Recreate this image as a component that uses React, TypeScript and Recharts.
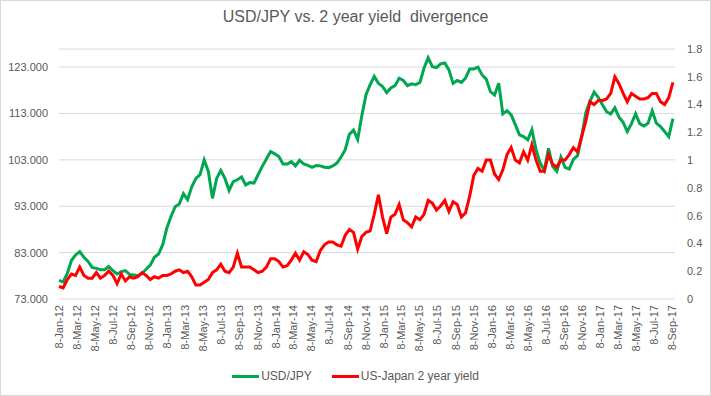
import React from "react";
import {
  LineChart,
  Line,
  XAxis,
  YAxis,
  CartesianGrid,
  Legend,
} from "recharts";

// fortnightly readings starting 8-Jan-12
const START = Date.UTC(2012, 0, 8);
const END = Date.UTC(2017, 8, 17);
const STEP_DAYS = 14;
const DAY = 86400000;

const usdJpy = [
  77.0, 76.7, 78.5, 81.3, 82.5, 83.2, 82.0, 81.1, 79.8, 79.6,
  79.3, 79.3, 80.0, 79.1, 78.4, 78.9, 79.1, 78.3, 78.2, 78.0,
  78.5, 79.4, 80.3, 82.0, 82.7, 84.7, 88.3, 90.8, 92.9, 93.5,
  95.7, 94.4, 97.2, 99.0, 99.8, 103.0, 100.5, 94.7, 99.0, 100.7,
  99.0, 96.4, 98.3, 98.7, 99.3, 97.6, 98.1, 98.0, 99.8, 101.6,
  103.2, 104.8, 104.3, 103.7, 102.1, 102.1, 102.6, 101.7, 102.9, 102.1,
  101.8, 101.4, 101.8, 101.7, 101.4, 101.3, 101.7, 102.3, 103.6, 105.2,
  108.5, 109.4, 107.4, 112.5, 117.0, 119.2, 121.0, 119.5, 118.8, 117.5,
  118.5, 119.0, 120.6, 120.1, 119.0, 119.4, 119.2, 119.7, 122.8, 125.0,
  123.1, 122.9, 123.7, 123.9, 122.4, 119.5, 120.1, 119.7, 120.6, 122.6,
  122.6, 123.0, 121.3, 120.4, 117.7, 117.0, 119.5, 112.9, 113.6, 112.7,
  110.6, 108.4, 108.0, 107.3, 109.5, 105.2, 102.3, 100.7, 105.5, 101.6,
  100.5, 103.6, 101.4, 101.0, 103.1, 103.9, 108.0, 113.2, 115.6, 117.6,
  116.5, 114.9, 113.4, 112.9, 114.2, 112.2, 111.1, 109.1, 110.8, 112.9,
  110.8, 110.3, 110.9, 113.6, 110.9, 110.2, 109.1, 108.0, 111.9,
];

const yieldGap = [
  0.09, 0.08, 0.14, 0.18, 0.17, 0.23, 0.17, 0.15, 0.15, 0.19,
  0.15, 0.17, 0.2, 0.17, 0.11, 0.18, 0.13, 0.16, 0.15, 0.16,
  0.19, 0.17, 0.14, 0.16, 0.15, 0.17, 0.17, 0.18, 0.2, 0.21,
  0.19, 0.2, 0.16, 0.1, 0.1, 0.12, 0.14, 0.19, 0.21, 0.25,
  0.2, 0.19, 0.23, 0.33, 0.23, 0.23, 0.23, 0.21, 0.19, 0.2,
  0.23, 0.29, 0.29, 0.27, 0.23, 0.24, 0.28, 0.33, 0.28, 0.34,
  0.32, 0.28, 0.27, 0.35, 0.39, 0.41, 0.41, 0.39, 0.38, 0.46,
  0.5, 0.48, 0.36, 0.45, 0.48, 0.49, 0.61, 0.75, 0.59, 0.47,
  0.59, 0.61, 0.68, 0.57, 0.55, 0.52, 0.59, 0.57, 0.61, 0.71,
  0.69, 0.64, 0.67, 0.71, 0.63, 0.7, 0.68, 0.59, 0.62, 0.74,
  0.89, 0.94, 0.92, 1.0, 1.0, 0.9, 0.86, 0.93, 1.04, 1.09,
  1.0, 0.98, 1.06, 1.0, 1.11, 1.0, 0.92, 0.92, 1.04, 0.97,
  0.95, 1.0, 1.0, 1.04, 1.09, 1.06, 1.17, 1.28, 1.42, 1.4,
  1.43, 1.43, 1.44, 1.48, 1.6, 1.55, 1.48, 1.42, 1.48, 1.46,
  1.44, 1.44, 1.45, 1.48, 1.48, 1.42, 1.4, 1.45, 1.56,
];

const dateTicks = [
  "8-Jan-12", "8-Mar-12", "8-May-12", "8-Jul-12", "8-Sep-12", "8-Nov-12",
  "8-Jan-13", "8-Mar-13", "8-May-13", "8-Jul-13", "8-Sep-13", "8-Nov-13",
  "8-Jan-14", "8-Mar-14", "8-May-14", "8-Jul-14", "8-Sep-14", "8-Nov-14",
  "8-Jan-15", "8-Mar-15", "8-May-15", "8-Jul-15", "8-Sep-15", "8-Nov-15",
  "8-Jan-16", "8-Mar-16", "8-May-16", "8-Jul-16", "8-Sep-16", "8-Nov-16",
  "8-Jan-17", "8-Mar-17", "8-May-17", "8-Jul-17", "8-Sep-17",
];

const leftTicks = [73, 83, 93, 103, 113, 123];
const rightTicks = [0, 0.2, 0.4, 0.6, 0.8, 1, 1.2, 1.4, 1.6, 1.8];

const MONTHS = ["Jan", "Feb", "Mar", "Apr", "May", "Jun", "Jul", "Aug", "Sep", "Oct", "Nov", "Dec"];
const FONT = "'Liberation Sans', Arial, sans-serif";
const GREEN = "#00A650";
const RED = "#FF0000";
const TEXT = "#595959";

const parseTick = (s: string) => {
  const [d, m, y] = s.split("-");
  return Date.UTC(2000 + Number(y), MONTHS.indexOf(m), Number(d));
};
const tickTimes = dateTicks.map(parseTick);
const labelFor = (t: number) => dateTicks[tickTimes.indexOf(t)] ?? "";

const rows = usdJpy.map((v, i) => ({
  t: START + i * STEP_DAYS * DAY,
  usd: v,
  gap: yieldGap[i],
}));

const DateTick = (props: any) => {
  const { x, y, payload } = props;
  return (
    <text
      x={x}
      y={y}
      transform={`rotate(-90 ${x} ${y})`}
      textAnchor="end"
      dominantBaseline="central"
      fill={TEXT}
      fontSize={11}
      fontFamily={FONT}
    >
      {labelFor(payload.value)}
    </text>
  );
};

const legendItems = [
  { name: "USD/JPY", color: GREEN },
  { name: "US-Japan 2 year yield", color: RED },
];

const LegendBox = () => (
  <div
    style={{
      display: "flex",
      justifyContent: "center",
      alignItems: "center",
      height: 24,
      gap: 20,
      fontFamily: FONT,
      fontSize: 12,
      color: TEXT,
    }}
  >
    {legendItems.map((it) => (
      <div key={it.name} style={{ display: "flex", alignItems: "center", gap: 2 }}>
        <span style={{ display: "inline-block", width: 27, height: 3, background: it.color }} />
        <span>{it.name}</span>
      </div>
    ))}
  </div>
);

export default function App() {
  return (
    <div
      style={{
        position: "relative",
        width: 711,
        height: 396,
        background: "#fff",
        boxShadow: "inset 0 0 0 1px #d9d9d9",
      }}
    >
      <style>{`body{margin:0}`}</style>
      <div
        style={{
          position: "absolute",
          top: 7,
          left: 0,
          width: 711,
          textAlign: "center",
          fontFamily: FONT,
          fontSize: 16,
          lineHeight: "20px",
          color: TEXT,
          whiteSpace: "pre",
        }}
      >
        {"USD/JPY vs. 2 year yield  divergence"}
      </div>
      <LineChart
        width={711}
        height={396}
        data={rows}
        margin={{ top: 49, right: 0, bottom: 8, left: 0 }}
      >
        <CartesianGrid yAxisId="left" vertical={false} stroke="#d9d9d9" />
        <XAxis
          dataKey="t"
          type="number"
          domain={[START, END]}
          ticks={tickTimes}
          interval={0}
          tick={<DateTick />}
          tickLine={false}
          tickSize={0}
          tickMargin={6}
          axisLine={false}
          height={65}
        />
        <YAxis
          yAxisId="left"
          orientation="left"
          domain={[73, 126.9]}
          ticks={leftTicks}
          tickFormatter={(v: number) => v.toFixed(3)}
          tick={{ fill: TEXT, fontSize: 11, fontFamily: FONT }}
          tickLine={false}
          tickSize={0}
          tickMargin={11}
          axisLine={false}
          width={59}
          allowDataOverflow
        />
        <YAxis
          yAxisId="right"
          orientation="right"
          domain={[0, 1.8]}
          ticks={rightTicks}
          tickFormatter={(v: number) => String(Math.round(v * 10) / 10)}
          tick={{ fill: TEXT, fontSize: 11, fontFamily: FONT }}
          tickLine={false}
          tickSize={0}
          tickMargin={12}
          axisLine={false}
          width={36}
        />
        <Legend verticalAlign="bottom" content={<LegendBox />} />
        <Line
          yAxisId="left"
          dataKey="usd"
          name="USD/JPY"
          stroke={GREEN}
          strokeWidth={3}
          dot={false}
          isAnimationActive={false}
        />
        <Line
          yAxisId="right"
          dataKey="gap"
          name="US-Japan 2 year yield"
          stroke={RED}
          strokeWidth={3}
          dot={false}
          isAnimationActive={false}
        />
      </LineChart>
    </div>
  );
}
